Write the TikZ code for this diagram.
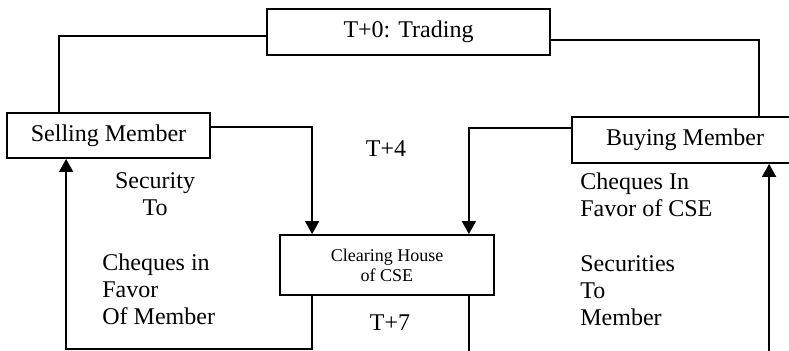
\documentclass[tikz,border=0pt]{standalone}
\usepackage{fontspec}
\setmainfont{Liberation Serif}
\usetikzlibrary{positioning,arrows.meta,calc}

\begin{document}
\begin{tikzpicture}[
    x=0.5pt, y=-0.5pt,
    stagebox/.style={draw=black, line width=0.9pt, fill=white, inner sep=0pt, font=\fontsize{12}{13.5}\selectfont, align=center},
    chbox/.style={draw=black, line width=0.9pt, fill=white, inner sep=0pt, font=\fontsize{9}{10}\selectfont, align=center},
    lbl/.style={inner sep=0pt, font=\fontsize{12}{13.5}\selectfont},
    flow/.style={draw=black, line width=0.75pt},
    flowarrow/.style={flow, -{Triangle[length=6.5pt, width=7pt]}}
]
    \useasboundingbox (0,0) rectangle (789,350);
    \clip (0,0) rectangle (789,350);

    % Boxes
    \node[stagebox, minimum width=141.5pt, minimum height=23pt] (trade) at (408.5, 32) {T+0: Trading};
    \node[stagebox, minimum width=101.5pt, minimum height=22.5pt] (seller) at (108.5, 135.5) {Selling Member};
    \node[stagebox, minimum width=113pt, minimum height=23pt] (buyer) at (685, 140) {Buying Member};
    \node[chbox, minimum width=107pt, minimum height=30pt] (clearing) at (387, 265) {Clearing House\\of CSE};

    % Trading to the two members
    \draw[flow] ($(trade.west)+(0,4)$) -| ($(seller.north west)+(53,0)$);
    \draw[flow] ($(trade.east)+(0,8)$) -| ($(buyer.north west)+(188,0)$);

    % Members to the clearing house (T+4)
    \draw[flowarrow] ($(seller.east)+(0,-8.5)$) -| ($(clearing.north west)+(33,0)$);
    \draw[flowarrow] ($(buyer.west)+(0,-12)$) -| ($(clearing.north east)+(-26,0)$);

    % Clearing house back to the members (T+7)
    \draw[flowarrow] ($(clearing.south west)+(33,0)$) -- ++(0,53) -| ($(seller.south west)+(60,0)$);
    \draw[flowarrow] ($(clearing.south east)+(-26,0)$) -- ++(0,70) -| ($(buyer.south west)+(198,0)$);

    % Labels
    \node[lbl] (t4) at (386, 149) {T+4};
    \node[lbl] (t7) at (390, 323) {T+7};
    \node[lbl, align=center] (secto) at (155, 194) {Security\\To};
    \node[lbl, align=left, anchor=west] (chqmem) at (102, 289) {Cheques in\\Favor\\Of Member};
    \node[lbl, align=left, anchor=west] (chqcse) at (580, 195) {Cheques In\\Favor of CSE};
    \node[lbl, align=left, anchor=west] (secmem) at (580, 291) {Securities\\To\\Member};
\end{tikzpicture}
\end{document}
